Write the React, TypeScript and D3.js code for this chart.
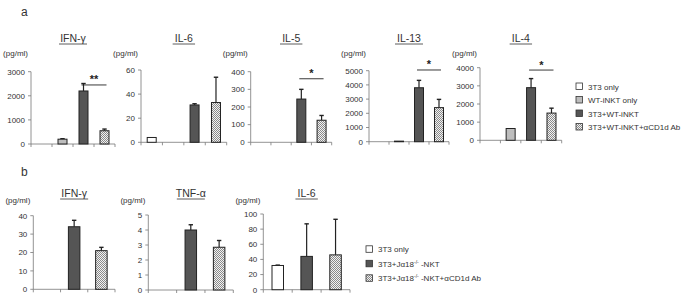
import React from "react";
import * as d3 from "d3";

// ---------- data ----------
const catsA = ["3T3 only", "WT-iNKT only", "3T3+WT-iNKT", "3T3+WT-iNKT+αCD1d Ab"];
const titlesA = ["IFN-γ", "IL-6", "IL-5", "IL-13", "IL-4"];
const maxA = [3000, 60, 400, 5000, 4000];
const stepA = [1000, 20, 100, 1000, 1000];
const ifnA = [0, 200, 2200, 550];
const ifnAErr = [0, 20, 310, 70];
const il6A = [4, 0, 31, 33];
const il6AErr = [0, 0, 1, 21];
const il5A = [0, 0, 245, 125];
const il5AErr = [0, 0, 55, 27];
const il13A = [0, 40, 3800, 2400];
const il13AErr = [0, 0, 520, 580];
const il4A = [0, 650, 2900, 1500];
const il4AErr = [0, 0, 500, 270];
const sigA = ["**", "", "*", "*", "*"];
const sigLevelA = [2450, 0, 360, 5050, 3870];

const catsB = ["3T3 only", "3T3+Jα18-/- -NKT", "3T3+Jα18-/- -NKT+αCD1d Ab"];
const titlesB = ["IFN-γ", "TNF-α", "IL-6"];
const maxB = [40, 5, 100];
const stepB = [10, 1, 20];
const ifnB = [0, 34, 21];
const ifnBErr = [0, 3.5, 1.8];
const tnfB = [0, 4.0, 2.85];
const tnfBErr = [0, 0.35, 0.45];
const il6B = [32, 44, 46];
const il6BErr = [0.5, 43, 47];

const valuesA = [ifnA, il6A, il5A, il13A, il4A];
const errorsA = [ifnAErr, il6AErr, il5AErr, il13AErr, il4AErr];
const valuesB = [ifnB, tnfB, il6B];
const errorsB = [ifnBErr, tnfBErr, il6BErr];

// ---------- layout ----------
const layoutA = [
  { x0: 31, x1: 115, yTop: 71.7, yZero: 144 },
  { x0: 141, x1: 226.7, yTop: 70, yZero: 142.3 },
  { x0: 250.7, x1: 331.7, yTop: 71.7, yZero: 142.3 },
  { x0: 369, x1: 449, yTop: 70.7, yZero: 141.7 },
  { x0: 480, x1: 561.7, yTop: 67.7, yZero: 140.3 },
];
const layoutB = [
  { x0: 33.3, x1: 115, yTop: 215.7, yZero: 289.3 },
  { x0: 148.3, x1: 233.3, yTop: 215, yZero: 290 },
  { x0: 263.3, x1: 350, yTop: 214, yZero: 289.7 },
];
const titleYA = 42;
const unitYA = 56;
const titleYB = 197;
const unitYB = 203;

const FONT = "'Liberation Sans', Arial, sans-serif";
const TXT = "#333";
const AXIS = "#777";
const fillsA = ["#ffffff", "#bdbdbd", "#555555", "url(#hatch)"];
const fillsB = ["#ffffff", "#555555", "url(#hatch)"];

type Lay = { x0: number; x1: number; yTop: number; yZero: number };

function Panel(props: {
  lay: Lay; cats: string[]; values: number[]; errs: number[]; max: number; step: number;
  title: string; fills: string[]; barW: number; sig?: string; sigLevel?: number; titleY: number; unitY: number;
}) {
  const { lay, cats, values, errs, max, step, title, fills, barW, sig, sigLevel, titleY, unitY } = props;
  const x = d3.scaleBand<string>().domain(cats).range([lay.x0, lay.x1]).padding(0);
  const y = d3.scaleLinear().domain([0, max]).range([lay.yZero, lay.yTop]);
  const ticks = d3.range(0, max + step / 2, step);
  const bounds = cats.map((c) => x(c) as number).concat([lay.x1]);
  const cx = (lay.x0 + lay.x1) / 2;
  const titleW = title.length * 5.6;
  return (
    <g>
      <text x={cx} y={titleY} textAnchor="middle" fontSize={10.5} fill={TXT} fontFamily={FONT}>{title}</text>
      <line x1={cx - titleW / 2} x2={cx + titleW / 2} y1={titleY + 2} y2={titleY + 2} stroke={TXT} strokeWidth={0.8} />
      <text x={lay.x0 - 3} y={unitY} textAnchor="end" fontSize={8} fill={TXT} fontFamily={FONT}>(pg/ml)</text>
      <line x1={lay.x0} x2={lay.x0} y1={lay.yTop} y2={lay.yZero} stroke={AXIS} strokeWidth={0.8} />
      <line x1={lay.x0} x2={lay.x1} y1={lay.yZero} y2={lay.yZero} stroke={AXIS} strokeWidth={0.8} />
      {ticks.map((t) => (
        <g key={t}>
          <line x1={lay.x0 - 3} x2={lay.x0} y1={y(t)} y2={y(t)} stroke={AXIS} strokeWidth={0.8} />
          <text x={lay.x0 - 6} y={y(t) + 2.8} textAnchor="end" fontSize={8} fill={TXT} fontFamily={FONT}>{t}</text>
        </g>
      ))}
      {bounds.map((b, i) => (
        <line key={i} x1={b} x2={b} y1={lay.yZero} y2={lay.yZero + 3} stroke={AXIS} strokeWidth={0.8} />
      ))}
      {cats.map((c, i) => {
        const v = values[i];
        if (v <= 0) return null;
        const bx = (x(c) as number) + x.bandwidth() / 2;
        const top = y(v);
        const e = errs[i];
        return (
          <g key={c}>
            {e > 0 && (
              <g>
                <line x1={bx} x2={bx} y1={top} y2={y(v + e)} stroke="#222" strokeWidth={1.2} />
                <line x1={bx - 2.2} x2={bx + 2.2} y1={y(v + e)} y2={y(v + e)} stroke="#222" strokeWidth={1.4} />
              </g>
            )}
            <rect x={bx - barW / 2} y={top} width={barW} height={lay.yZero - top} fill={fills[i]} stroke="#222" strokeWidth={1} />
          </g>
        );
      })}
      {sig && sigLevel ? (() => {
        const c2 = (x(cats[2]) as number) + x.bandwidth() / 2;
        const c3 = (x(cats[3]) as number) + x.bandwidth() / 2;
        const ly = y(sigLevel);
        return (
          <g>
            <line x1={c2 - 2} x2={c3 + 2} y1={ly} y2={ly} stroke="#222" strokeWidth={0.9} />
            <text x={(c2 + c3) / 2} y={ly - 1.5} textAnchor="middle" fontSize={11} fontWeight="bold" fill="#222" fontFamily={FONT}>{sig}</text>
          </g>
        );
      })() : null}
    </g>
  );
}

function Legend(props: { x: number; ys: number[]; fills: string[]; labels: React.ReactNode[] }) {
  const { x, ys, fills, labels } = props;
  return (
    <g>
      {ys.map((yy, i) => (
        <g key={i}>
          <rect x={x} y={yy - 3.5} width={6.5} height={6.5} fill={fills[i]} stroke="#333" strokeWidth={0.8} />
          <text x={x + 12} y={yy + 3} fontSize={8} fill={TXT} fontFamily={FONT}>{labels[i]}</text>
        </g>
      ))}
    </g>
  );
}

function jLabel(s: string) {
  const parts = s.split("-/-");
  if (parts.length < 2) return s;
  return (
    <>
      {parts[0]}
      <tspan fontSize={5} dy={-3}>-/-</tspan>
      <tspan dy={3}>{parts[1]}</tspan>
    </>
  );
}

export default function App() {
  return (
    <svg width={685} height={297} style={{ position: "absolute", left: 0, top: 0, background: "#fff" }}>
      <defs>
        <pattern id="hatch" width={2} height={2} patternUnits="userSpaceOnUse">
          <rect width={2} height={2} fill="#f2f2f2" />
          <rect width={1} height={1} fill="#8a8a8a" />
          <rect x={1} y={1} width={1} height={1} fill="#8a8a8a" />
        </pattern>
      </defs>
      <rect width={685} height={297} fill="#fff" />
      <text x={21} y={16} fontSize={12} fill={TXT} fontFamily={FONT}>a</text>
      <text x={21} y={176} fontSize={12} fill={TXT} fontFamily={FONT}>b</text>
      {layoutA.map((lay, i) => (
        <Panel key={i} lay={lay} cats={catsA} values={valuesA[i]} errs={errorsA[i]} max={maxA[i]} step={stepA[i]}
          title={titlesA[i]} fills={fillsA} barW={9} sig={sigA[i]} sigLevel={sigLevelA[i]} titleY={titleYA} unitY={unitYA} />
      ))}
      {layoutB.map((lay, i) => (
        <Panel key={i} lay={lay} cats={catsB} values={valuesB[i]} errs={errorsB[i]} max={maxB[i]} step={stepB[i]}
          title={titlesB[i]} fills={fillsB} barW={11.5} titleY={titleYB} unitY={unitYB} />
      ))}
      <Legend x={576} ys={[86.5, 100, 113.5, 127]} fills={fillsA} labels={catsA} />
      <Legend x={366} ys={[249.3, 263.8, 278.3]} fills={fillsB} labels={catsB.map(jLabel)} />
    </svg>
  );
}
